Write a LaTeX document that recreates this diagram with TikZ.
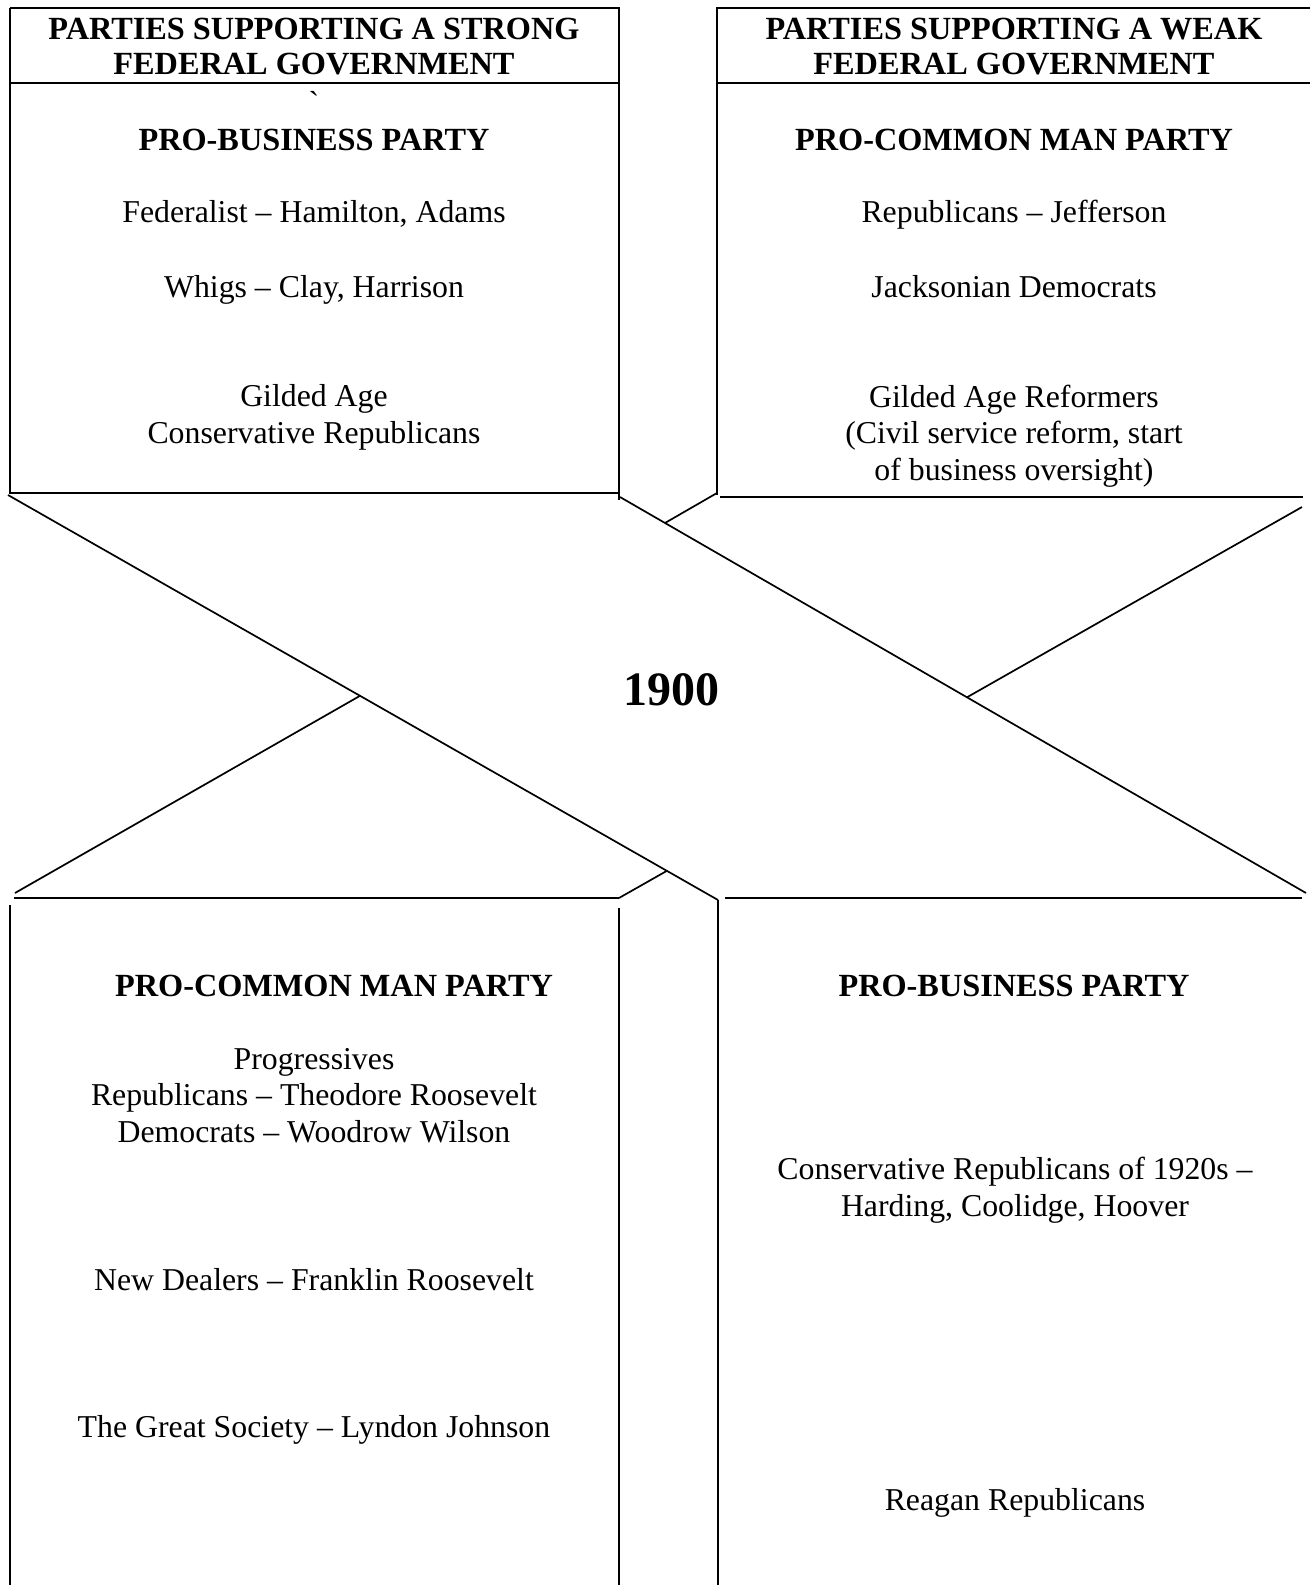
\documentclass[tikz,border=0pt]{standalone}
\usepackage{fontspec}
\setmainfont{Liberation Serif}
\usetikzlibrary{calc}
\newcommand{\bodysize}{\fontsize{31.8}{36.4}\selectfont}
\newcommand{\headsize}{\fontsize{32.3}{36.4}\selectfont}
\tikzset{
	boxline/.style={line width=2pt},
	crossline/.style={line width=1.7pt},
	heading/.style={font=\headsize\bfseries, anchor=base, inner sep=0pt},
	entry/.style={font=\bodysize, align=center, anchor=base, inner sep=0pt},
	% the year in the middle
	year/.style={font=\fontsize{48}{54}\selectfont\bfseries, anchor=base, inner sep=0pt}
}
\begin{document}
\begin{tikzpicture}[x=1pt, y=-1pt]
			\useasboundingbox (0,0) rectangle (1310,1585);
			
			% corners of the four boxes
			\coordinate (tlnw) at (10,8);
			\coordinate (tlne) at (619,8);
			\coordinate (tlsw) at (10,493);
			\coordinate (tlse) at (619,493);
			\coordinate (trnw) at (717,8);
			\coordinate (trne) at (1310,8);
			\coordinate (trsw) at (717,495);
			\coordinate (blnw) at (14,898);
			\coordinate (blne) at (619,898);
			\coordinate (brnw) at (725,898);
			\coordinate (brne) at (1302,898);
			
			% ends of the two long diagonals
			\coordinate (a1) at (8,495);
			\coordinate (a2) at (718,900);
			\coordinate (b1) at (620,497);
			\coordinate (b2) at (1306,893);
			
			\coordinate (c1) at ($(a1)!0.4958!(a2)$);
			\coordinate (c2) at (15,893);
			\coordinate (d1) at ($(b1)!0.5058!(b2)$);
			\coordinate (d2) at (1302,507);
			\coordinate (e1) at ($(b1)!0.0656!(b2)$);
			\coordinate (f1) at ($(a1)!0.928!(a2)$);
			
			\begin{scope}[boxline]
				\draw (tlnw) -- (tlne) -- (619,500);
				\draw (tlnw) -- (tlsw) -- (tlse);
				\draw (10,83) -- (619,83);
				\draw (trne) -- (trnw) -- (trsw);
				\draw (717,83) -- (1310,83);
				\draw (720,497) -- (1303,497);
				\draw (blnw) -- (blne);
				\draw (10,905) -- (10,1585);
				\draw (619,908) -- (619,1585);
				\draw (brnw) -- (brne);
				\draw (718,900) -- (718,1585);
			\end{scope}
			
			\begin{scope}[crossline]
				\draw (a1) -- (a2);
				\draw (b1) -- (b2);
				\draw (c1) -- (c2);
				\draw (d1) -- (d2);
				\draw (e1) -- (717,493);
				\draw (f1) -- (blne);
			\end{scope}
			
			% top left
			\node (strong) [heading] at (314,39) {PARTIES SUPPORTING A STRONG};
			\node (strong2) [heading] at (314,74) {FEDERAL GOVERNMENT};
			\node (tick) [entry] at (314,113) {\textasciigrave};
			\node (bus1) [heading] at (314,150) {PRO-BUSINESS PARTY};
			\node (fed) [entry] at (314,222) {Federalist – Hamilton, Adams};
			\node (whig) [entry] at (314,297) {Whigs – Clay, Harrison};
			\node (gilded) [entry] at (314,443) {Gilded Age\\Conservative Republicans};
			
			% top right
			\node (weak) [heading] at (1014,39) {PARTIES SUPPORTING A WEAK};
			\node (weak2) [heading] at (1014,74) {FEDERAL GOVERNMENT};
			\node (com1) [heading] at (1014,150) {PRO-COMMON MAN PARTY};
			\node (jeff) [entry] at (1014,222) {Republicans – Jefferson};
			\node (jack) [entry] at (1014,297) {Jacksonian Democrats};
			\node (reform) [entry] at (1014,480) {Gilded Age Reformers\\(Civil service reform, start\\of business oversight)};
			
			\node (year) [year] at (671,705) {1900};
			
			% bottom left
			\node (com2) [heading] at (334,996) {PRO-COMMON MAN PARTY};
			\node (prog) [entry] at (314,1142) {Progressives\\Republicans – Theodore Roosevelt\\Democrats – Woodrow Wilson};
			\node (deal) [entry] at (314,1290) {New Dealers – Franklin Roosevelt};
			\node (great) [entry] at (314,1437) {The Great Society – Lyndon Johnson};
			
			% bottom right
			\node (bus2) [heading] at (1014,996) {PRO-BUSINESS PARTY};
			\node (cons) [entry] at (1015,1216) {Conservative Republicans of 1920s –\\Harding, Coolidge, Hoover};
			\node (reagan) [entry] at (1015,1510) {Reagan Republicans};
		\end{tikzpicture}
\end{document}
